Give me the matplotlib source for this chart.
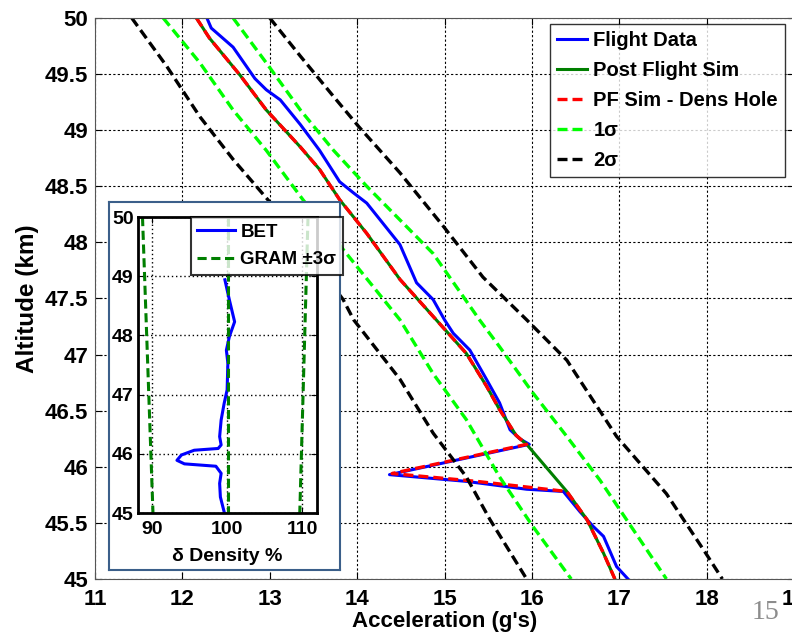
import numpy as np
import matplotlib.pyplot as plt

plt.rcParams['font.family'] = ['Liberation Sans', 'DejaVu Sans']
plt.rcParams['font.weight'] = 'bold'

# main chart: acceleration (g's) vs altitude (km)
fd_alt = [50.0, 49.91, 49.74, 49.46, 49.36, 49.27, 49.05, 48.82, 48.54, 48.44, 48.35, 47.98,
          47.64, 47.49, 47.31, 47.19, 47.04, 46.78, 46.57, 46.33, 46.25, 46.20, 45.93,
          45.87, 45.80, 45.78, 45.60, 45.47, 45.38, 45.11, 45.0]
fd_acc = [12.28, 12.33, 12.58, 12.83, 12.96, 13.12, 13.35, 13.57, 13.80, 13.96, 14.11, 14.49,
          14.68, 14.87, 15.00, 15.10, 15.29, 15.48, 15.63, 15.75, 15.86, 15.97, 14.37,
          15.25, 15.94, 16.36, 16.55, 16.70, 16.82, 16.97, 17.10]

pf_alt = [50.0, 49.82, 49.49, 49.18, 48.85, 48.65, 48.38, 48.08, 47.67, 47.34, 47.01,
          46.72, 46.51, 46.28, 46.20, 45.78, 45.53, 45.23, 45.0]
pf_acc = [12.16, 12.31, 12.66, 12.96, 13.35, 13.57, 13.80, 14.11, 14.49, 14.87, 15.25,
          15.48, 15.63, 15.82, 15.94, 16.40, 16.63, 16.82, 16.95]

dh_alt = [50.0, 49.82, 49.49, 49.18, 48.85, 48.65, 48.38, 48.08, 47.67, 47.34, 47.01,
          46.72, 46.51, 46.28, 46.20, 45.94, 45.87, 45.82, 45.78, 45.53, 45.23, 45.0]
dh_acc = [12.16, 12.31, 12.66, 12.96, 13.35, 13.57, 13.80, 14.11, 14.49, 14.87, 15.25,
          15.48, 15.63, 15.82, 15.94, 14.40, 15.37, 15.94, 16.40, 16.63, 16.82, 16.95]

s1_lo_alt = [50.0, 49.6, 49.18, 48.82, 48.38, 47.31, 46.83, 46.42, 45.91, 45.47, 45.0]
s1_lo_acc = [11.78, 12.20, 12.58, 12.96, 13.38, 14.49, 14.87, 15.25, 15.63, 16.01, 16.45]
s1_hi_alt = [50.0, 49.6, 49.18, 48.82, 48.5, 48.2, 47.9, 47.31, 47.07, 46.66, 46.27, 45.88, 45.44, 45.0]
s1_hi_acc = [12.58, 12.96, 13.35, 13.73, 14.11, 14.49, 14.87, 15.40, 15.63, 16.01, 16.40, 16.78, 17.16, 17.54]

s2_lo_alt = [50.0, 49.57, 49.12, 48.74, 48.36, 47.49, 47.31, 46.78, 46.30, 45.91, 45.53, 45.0]
s2_lo_acc = [11.42, 11.82, 12.20, 12.58, 13.00, 13.84, 13.96, 14.49, 14.87, 15.25, 15.52, 15.94]
s2_hi_alt = [50.0, 49.66, 49.30, 49.03, 48.62, 48.14, 47.69, 47.31, 46.95, 46.27, 45.76, 45.23, 45.0]
s2_hi_acc = [13.00, 13.35, 13.73, 14.02, 14.49, 14.99, 15.44, 15.94, 16.40, 16.97, 17.54, 17.99, 18.18]

# inset: density deviation (%) vs altitude (km)
bet_alt = [48.94, 48.60, 48.23, 47.98, 47.75, 47.53, 47.08, 46.85, 46.57, 46.29, 46.15, 46.09,
           46.06, 45.98, 45.89, 45.83, 45.79, 45.67, 45.50, 45.27, 45.02]
bet_dens = [99.7, 100.3, 101.0, 100.3, 99.9, 100.1, 100.0, 99.6, 99.2, 99.0, 99.2, 98.8,
            95.6, 93.9, 93.3, 94.3, 98.5, 99.2, 99.0, 99.1, 99.6]
gram_alt = [50.0, 45.0]
gram_lo = [88.7, 90.1]
gram_mid = [100.1, 100.1]
gram_hi = [110.8, 109.7]

fig = plt.figure(figsize=(7.92, 6.35), dpi=100)
ax = fig.add_axes([0.12, 0.0882, 0.8825, 0.8835])

dash = (0, (3, 1.5))
ax.plot(fd_acc, fd_alt, color='#0000ff', lw=2.2, label='Flight Data')
ax.plot(pf_acc, pf_alt, color='#007f00', lw=2.2, label='Post Flight Sim')
ax.plot(dh_acc, dh_alt, color='#ff0000', lw=2.4, ls=dash, label='PF Sim - Dens Hole')
ax.plot(s1_lo_acc, s1_lo_alt, color='#00ff00', lw=2.4, ls=dash, label='1σ')
ax.plot(s1_hi_acc, s1_hi_alt, color='#00ff00', lw=2.4, ls=dash)
ax.plot(s2_lo_acc, s2_lo_alt, color='k', lw=2.4, ls=dash, label='2σ')
ax.plot(s2_hi_acc, s2_hi_alt, color='k', lw=2.4, ls=dash)

ax.set_xlim(11, 19)
ax.set_ylim(45, 50)
ax.set_xticks(np.arange(11, 20, 1))
ax.set_yticks(np.arange(45, 50.01, 0.5))
ax.set_yticklabels(['45', '45.5', '46', '46.5', '47', '47.5', '48', '48.5', '49', '49.5', '50'])
ax.grid(True, color='k', ls=(0, (2, 2)), lw=0.8)
ax.tick_params(direction='in', top=True, right=True, length=5, labelsize=16)
ax.tick_params(axis='x', pad=7)
ax.tick_params(axis='y', pad=5)
for s in ax.spines.values():
    s.set_color('#555555')
ax.set_xlabel("Acceleration (g's)", fontsize=16, fontweight='bold', labelpad=1)
ax.set_ylabel('Altitude (km)', fontsize=17.5, fontweight='bold', labelpad=4)

leg = ax.legend(loc='upper left', bbox_to_anchor=(550 / 792, 1 - 24 / 635),
                bbox_transform=fig.transFigure, fontsize=14.5, frameon=True, fancybox=False,
                handlelength=1.5, handletextpad=0.3, labelspacing=0.55, borderpad=0.35,
                borderaxespad=0)
leg.get_frame().set_edgecolor('k')
leg.get_frame().set_linewidth(1.0)

# framed inset panel
box = fig.add_axes([109 / 792, 1 - 570 / 635, 231 / 792, 368 / 635])
box.set_xticks([])
box.set_yticks([])
for s in box.spines.values():
    s.set_color('#3b5f8a')
    s.set_linewidth(1.5)

ins = fig.add_axes([138 / 792, 1 - 513 / 635, 179 / 792, 296 / 635])
ins.plot(bet_dens, bet_alt, color='#0000ff', lw=2.2, label='BET')
ins.plot(gram_lo, gram_alt, color='#007f00', lw=2.2, ls=dash, label='GRAM ±3σ')
ins.plot(gram_mid, gram_alt, color='#007f00', lw=2.2, ls=dash)
ins.plot(gram_hi, gram_alt, color='#007f00', lw=2.2, ls=dash)
ins.set_xlim(88.1, 112)
ins.set_ylim(45, 50)
ins.set_xticks([90, 100, 110])
ins.set_yticks([45, 46, 47, 48, 49, 50])
ins.grid(True, color='k', ls=(0, (1, 2)), lw=1.0)
ins.tick_params(direction='in', top=True, right=True, length=4, labelsize=14, pad=3)
ins.tick_params(axis='x', pad=6)
for s in ins.spines.values():
    s.set_color('k')
    s.set_linewidth(2)
ins.set_xlabel('δ Density %', fontsize=14, fontweight='bold', labelpad=7)
ileg = ins.legend(loc='upper left', bbox_to_anchor=(0.294, 1.0), fontsize=13.5, frameon=True,
                  fancybox=False, handlelength=2.0, handletextpad=0.3, labelspacing=0.55,
                  borderpad=0.35, borderaxespad=0)
ileg.get_frame().set_edgecolor('k')
ileg.get_frame().set_linewidth(1.5)

fig.text(0.966, 0.035, '15', fontsize=20, color='#8c8c8c', family='Liberation Serif',
         fontweight='normal', ha='center', va='center')

fig.savefig('out.png', dpi=100)
